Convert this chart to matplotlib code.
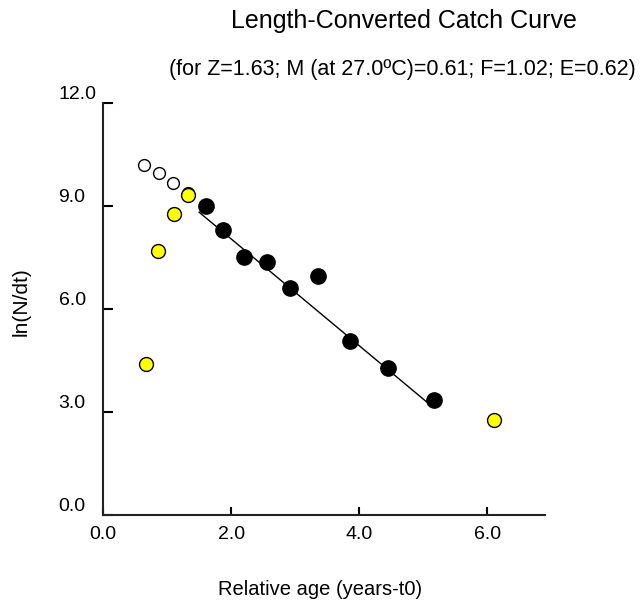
import matplotlib
matplotlib.use("Agg")
import matplotlib.pyplot as plt

plt.rcParams['font.family'] = ['Liberation Sans', 'DejaVu Sans']

# Data
open_x = [0.645, 0.874, 1.10, 1.33]
open_y = [10.19, 9.95, 9.66, 9.37]

black_x = [1.608, 1.879, 2.20, 2.556, 2.92, 3.36, 3.856, 4.454, 5.168]
black_y = [9.00, 8.30, 7.52, 7.38, 6.60, 6.96, 5.08, 4.27, 3.35]

yellow_x = [1.33, 1.113, 0.854, 0.667, 6.11]
yellow_y = [9.32, 8.77, 7.69, 4.39, 2.77]

line_x = [1.50, 5.10]
line_y = [8.82, 3.22]

xticks = [0.0, 2.0, 4.0, 6.0]
xticklabels = ["0.0", "2.0", "4.0", "6.0"]
yticks = [0.0, 3.0, 6.0, 9.0, 12.0]
yticklabels = ["0.0", "3.0", "6.0", "9.0", "12.0"]

title = "Length-Converted Catch Curve"
subtitle = "(for Z=1.63; M (at 27.0ºC)=0.61; F=1.02; E=0.62)"
xlabel = "Relative age (years-t0)"
ylabel = "ln(N/dt)"

fig = plt.figure(figsize=(6.41, 6.04), dpi=100)
ax = fig.add_axes([103 / 641, 89 / 604, 442 / 641, 412 / 604])

ax.plot(line_x, line_y, color='black', lw=1.0, zorder=2)
ax.plot(open_x, open_y, linestyle='none', marker='o', markersize=8.5,
        markerfacecolor='white', markeredgecolor='black', markeredgewidth=1.0, zorder=3)
ax.plot(yellow_x, yellow_y, linestyle='none', marker='o', markersize=10,
        markerfacecolor='#ffff00', markeredgecolor='black', markeredgewidth=1.0, zorder=4)
ax.plot(black_x, black_y, linestyle='none', marker='o', markersize=11,
        markerfacecolor='black', markeredgecolor='black', zorder=5)

ax.set_xlim(0, 6.9)
ax.set_ylim(0, 12)
for s in ['top', 'right']:
    ax.spines[s].set_visible(False)
for s in ['left', 'bottom']:
    ax.spines[s].set_linewidth(1.5)
    ax.spines[s].set_color('#222222')

ax.set_xticks(xticks)
ax.set_xticklabels(xticklabels)
ax.set_yticks(yticks)
ax.set_yticklabels(yticklabels)
ax.tick_params(axis='y', direction='in', length=7, width=1.5, pad=32, labelsize=14)
ax.tick_params(axis='x', direction='in', length=6, width=1.5, pad=8, labelsize=14)
plt.setp(ax.get_yticklabels(), ha='left', va='bottom')

ax.set_xlabel(xlabel, fontsize=14.5, va='center')
ax.xaxis.set_label_coords(0.491, -0.182)
ax.set_ylabel(ylabel, fontsize=15, va='center')
ax.yaxis.set_label_coords(-0.1855, 0.519)

fig.text(404 / 641, 1 - 21 / 604, title, ha='center', va='center', fontsize=18)
fig.text(402 / 641, 1 - 69 / 604, subtitle, ha='center', va='center', fontsize=15.5)

fig.savefig("out.png", dpi=100)
